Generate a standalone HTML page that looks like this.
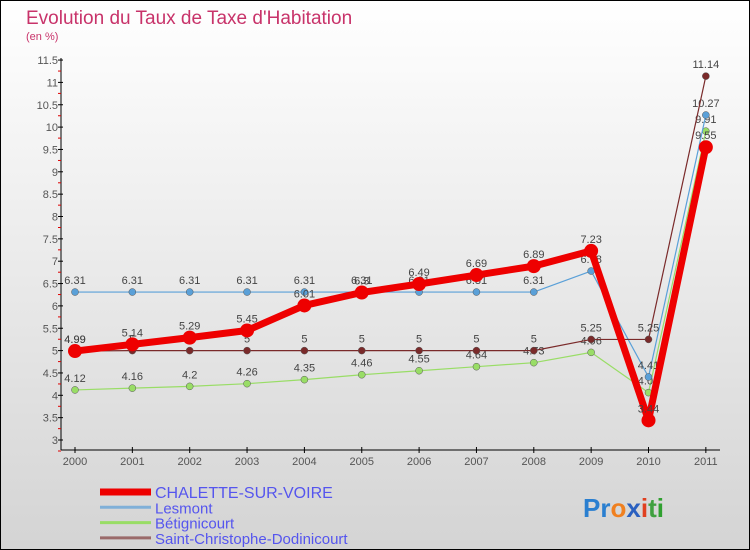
<!DOCTYPE html>
<html><head><meta charset="utf-8"><style>
html,body{margin:0;padding:0}
body{width:750px;height:550px;overflow:hidden;font-family:"Liberation Sans",sans-serif}
#c{position:absolute;left:0;top:0;width:748px;height:548px;border:1px solid #000;background:linear-gradient(#fff,#d4d4d4)}
</style></head><body>
<div id="c">
<svg id="s" width="750" height="550" style="position:absolute;left:-1px;top:-1px" font-family="Liberation Sans, sans-serif">
<text x="26" y="24" font-size="19" fill="#c8336a">Evolution du Taux de Taxe d'Habitation</text>
<text x="26" y="40" font-size="11" fill="#c8336a">(en %)</text>
<g id="axes"></g><g id="series"></g><g id="legend"></g>
<text x="583" y="517" font-size="26" font-weight="bold"><tspan fill="#2a7fd0">Pr</tspan><tspan fill="#f08020">o</tspan><tspan fill="#2a60c0">x</tspan><tspan fill="#e04020">i</tspan><tspan fill="#40a040">t</tspan><tspan fill="#30a030">i</tspan></text>
</svg>
</div>
<script>
const years=["2000","2001","2002","2003","2004","2005","2006","2007","2008","2009","2010","2011"];
const yTicks=[3,3.5,4,4.5,5,5.5,6,6.5,7,7.5,8,8.5,9,9.5,10,10.5,11,11.5];
const names=["CHALETTE-SUR-VOIRE","Lesmont","Bétignicourt","Saint-Christophe-Dodinicourt"];
const chalette=[4.99,5.14,5.29,5.45,6.01,6.3,6.49,6.69,6.89,7.23,3.44,9.55];
const lesmont=[6.31,6.31,6.31,6.31,6.31,6.31,6.31,6.31,6.31,6.78,4.41,10.27];
const betig=[4.12,4.16,4.2,4.26,4.35,4.46,4.55,4.64,4.73,4.96,4.06,9.91];
const stchris=[4.99,5,5,5,5,5,5,5,5,5.25,5.25,11.14];
const NS="http://www.w3.org/2000/svg";
const X=i=>75+i*57.35, Y=v=>440-(v-3)*44.7;
function mk(p,t,a){const e=document.createElementNS(NS,t);for(const k in a)e.setAttribute(k,a[k]);p.appendChild(e);return e;}
const ax=document.getElementById('axes');
let e=mk(ax,'line',{x1:61,y1:58,x2:61,y2:450,stroke:'#000'});


e=mk(ax,'line',{x1:61,y1:450,x2:720,y2:450,stroke:'#000'});


yTicks.forEach((v,i)=>{const y=Y(v);
 mk(ax,'line',{x1:58,y1:y,x2:63,y2:y,stroke:'#000'});
 mk(ax,'line',{x1:58,y1:y+11,x2:61,y2:y+11,stroke:'#d00'});
 const t=mk(ax,'text',{x:58,y:y+4,'font-size':11,fill:'#555','text-anchor':'end'});t.textContent=String(v);
 
 
});
years.forEach((yr,i)=>{const x=X(i);
 mk(ax,'line',{x1:x,y1:447,x2:x,y2:453,stroke:'#000'});
 const t=mk(ax,'text',{x:x,y:465,'font-size':11,fill:'#555','text-anchor':'middle'});t.textContent=yr;
 
 
});
const sg=document.getElementById('series');
function series(vals,color,w,r,name,lab){
 const g=mk(sg,'g',{});
 
 
 mk(g,'polyline',{points:vals.map((v,i)=>X(i)+','+Y(v)).join(' '),fill:'none',stroke:color,'stroke-width':w,'stroke-linejoin':'round'});
 vals.forEach((v,i)=>{
  const c=mk(g,'circle',{cx:X(i),cy:Y(v),r:r,fill:color,stroke:w>3?'none':'#555','stroke-width':0.5});
  
  
  const t=mk(g,'text',{x:X(i),y:Y(v)-8,'font-size':11,fill:'#444','text-anchor':'middle'});t.textContent=String(v);
 });
}
series(betig,'#99dd66',1.2,3.5,'series-betignicourt');
series(lesmont,'#5aa0d8',1.2,3.5,'series-lesmont');
series(stchris,'#7a2a2a',1.2,3.5,'series-saint-christophe');
series(chalette,'#ee0000',7,7,'series-chalette');
const lg=document.getElementById('legend');
const lc=['#ee0000','#80b0d8','#99dd66','#9a6a6a'];const lw=[7,3,3,3];
names.forEach((n,i)=>{const y=492+i*15.3;
 const g=mk(lg,'g',{});
 
 
 mk(g,'line',{x1:100,y1:y,x2:151,y2:y,stroke:lc[i],'stroke-width':lw[i]});
 const t=mk(g,'text',{x:155,y:y+6,'font-size':i?15:16,fill:'#5555ee'});t.textContent=n;
});
</script>
</body></html>
